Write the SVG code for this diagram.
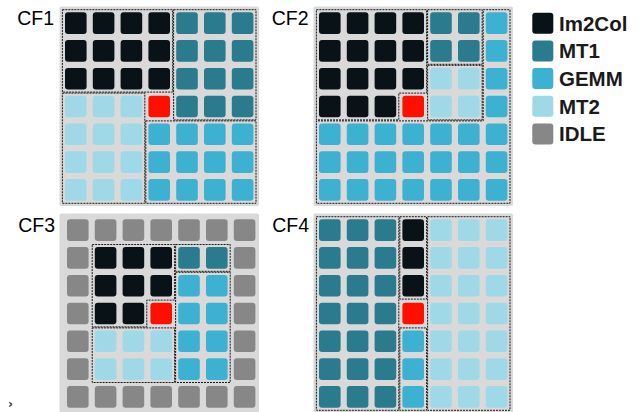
<svg xmlns="http://www.w3.org/2000/svg" width="641" height="412" viewBox="0 0 641 412">
<style>
.bg{fill:#d9d9d9}
.k{fill:#081217}
.m1{fill:#2a7b8e}
.g{fill:#3cb1d2}
.m2{fill:#9fd9e7}
.i{fill:#878787}
.r{fill:#fe1000}
.reg{fill:none;stroke:#1a1a1a;stroke-width:1;stroke-dasharray:2 1}
.lab{font-family:"Liberation Sans",Arial,sans-serif;font-size:19.5px;fill:#000;text-anchor:end}
.leg{font-family:"Liberation Sans",Arial,sans-serif;font-size:20.5px;font-weight:bold;fill:#1a1a1a}
</style>
<defs>
<rect id="c" width="21.6" height="21.6" rx="3"/>
<rect id="lb" width="21" height="21" rx="3"/>
</defs>
<rect x="0" y="0" width="641" height="412" fill="#fff"/>

<g id="cf1">
<rect class="bg" x="59.5" y="6.5" width="199.5" height="199.5" rx="2"/>
<text class="lab" x="54" y="25.3">CF1</text>
<g transform="translate(65,12.3)">
<use href="#c" class="k" x="0" y="0"/><use href="#c" class="k" x="27.8" y="0"/><use href="#c" class="k" x="55.6" y="0"/><use href="#c" class="k" x="83.4" y="0"/><use href="#c" class="m1" x="111.2" y="0"/><use href="#c" class="m1" x="139" y="0"/><use href="#c" class="m1" x="166.8" y="0"/>
<use href="#c" class="k" x="0" y="27.8"/><use href="#c" class="k" x="27.8" y="27.8"/><use href="#c" class="k" x="55.6" y="27.8"/><use href="#c" class="k" x="83.4" y="27.8"/><use href="#c" class="m1" x="111.2" y="27.8"/><use href="#c" class="m1" x="139" y="27.8"/><use href="#c" class="m1" x="166.8" y="27.8"/>
<use href="#c" class="k" x="0" y="55.6"/><use href="#c" class="k" x="27.8" y="55.6"/><use href="#c" class="k" x="55.6" y="55.6"/><use href="#c" class="k" x="83.4" y="55.6"/><use href="#c" class="m1" x="111.2" y="55.6"/><use href="#c" class="m1" x="139" y="55.6"/><use href="#c" class="m1" x="166.8" y="55.6"/>
<use href="#c" class="m2" x="0" y="83.4"/><use href="#c" class="m2" x="27.8" y="83.4"/><use href="#c" class="m2" x="55.6" y="83.4"/><use href="#c" class="r" x="83.4" y="83.4"/><use href="#c" class="m1" x="111.2" y="83.4"/><use href="#c" class="m1" x="139" y="83.4"/><use href="#c" class="m1" x="166.8" y="83.4"/>
<use href="#c" class="m2" x="0" y="111.2"/><use href="#c" class="m2" x="27.8" y="111.2"/><use href="#c" class="m2" x="55.6" y="111.2"/><use href="#c" class="g" x="83.4" y="111.2"/><use href="#c" class="g" x="111.2" y="111.2"/><use href="#c" class="g" x="139" y="111.2"/><use href="#c" class="g" x="166.8" y="111.2"/>
<use href="#c" class="m2" x="0" y="139"/><use href="#c" class="m2" x="27.8" y="139"/><use href="#c" class="m2" x="55.6" y="139"/><use href="#c" class="g" x="83.4" y="139"/><use href="#c" class="g" x="111.2" y="139"/><use href="#c" class="g" x="139" y="139"/><use href="#c" class="g" x="166.8" y="139"/>
<use href="#c" class="m2" x="0" y="166.8"/><use href="#c" class="m2" x="27.8" y="166.8"/><use href="#c" class="m2" x="55.6" y="166.8"/><use href="#c" class="g" x="83.4" y="166.8"/><use href="#c" class="g" x="111.2" y="166.8"/><use href="#c" class="g" x="139" y="166.8"/><use href="#c" class="g" x="166.8" y="166.8"/>
<rect class="reg" x="-2.6" y="-2.6" width="110.2" height="82.4"/>
<rect class="reg" x="108.6" y="-2.6" width="82.4" height="110.2"/>
<rect class="reg" x="-2.6" y="80.8" width="82.4" height="110.2"/>
<rect class="reg" x="80.8" y="108.6" width="110.2" height="82.4"/>
</g>
</g>

<g id="cf2">
<rect class="bg" x="313.5" y="6.5" width="199.5" height="199.5" rx="2"/>
<text class="lab" x="308.5" y="25.3">CF2</text>
<g transform="translate(319,12.3)">
<use href="#c" class="k" x="0" y="0"/><use href="#c" class="k" x="27.8" y="0"/><use href="#c" class="k" x="55.6" y="0"/><use href="#c" class="k" x="83.4" y="0"/><use href="#c" class="m1" x="111.2" y="0"/><use href="#c" class="m1" x="139" y="0"/><use href="#c" class="g" x="166.8" y="0"/>
<use href="#c" class="k" x="0" y="27.8"/><use href="#c" class="k" x="27.8" y="27.8"/><use href="#c" class="k" x="55.6" y="27.8"/><use href="#c" class="k" x="83.4" y="27.8"/><use href="#c" class="m1" x="111.2" y="27.8"/><use href="#c" class="m1" x="139" y="27.8"/><use href="#c" class="g" x="166.8" y="27.8"/>
<use href="#c" class="k" x="0" y="55.6"/><use href="#c" class="k" x="27.8" y="55.6"/><use href="#c" class="k" x="55.6" y="55.6"/><use href="#c" class="k" x="83.4" y="55.6"/><use href="#c" class="m2" x="111.2" y="55.6"/><use href="#c" class="m2" x="139" y="55.6"/><use href="#c" class="g" x="166.8" y="55.6"/>
<use href="#c" class="k" x="0" y="83.4"/><use href="#c" class="k" x="27.8" y="83.4"/><use href="#c" class="k" x="55.6" y="83.4"/><use href="#c" class="r" x="83.4" y="83.4"/><use href="#c" class="m2" x="111.2" y="83.4"/><use href="#c" class="m2" x="139" y="83.4"/><use href="#c" class="g" x="166.8" y="83.4"/>
<use href="#c" class="g" x="0" y="111.2"/><use href="#c" class="g" x="27.8" y="111.2"/><use href="#c" class="g" x="55.6" y="111.2"/><use href="#c" class="g" x="83.4" y="111.2"/><use href="#c" class="g" x="111.2" y="111.2"/><use href="#c" class="g" x="139" y="111.2"/><use href="#c" class="g" x="166.8" y="111.2"/>
<use href="#c" class="g" x="0" y="139"/><use href="#c" class="g" x="27.8" y="139"/><use href="#c" class="g" x="55.6" y="139"/><use href="#c" class="g" x="83.4" y="139"/><use href="#c" class="g" x="111.2" y="139"/><use href="#c" class="g" x="139" y="139"/><use href="#c" class="g" x="166.8" y="139"/>
<use href="#c" class="g" x="0" y="166.8"/><use href="#c" class="g" x="27.8" y="166.8"/><use href="#c" class="g" x="55.6" y="166.8"/><use href="#c" class="g" x="83.4" y="166.8"/><use href="#c" class="g" x="111.2" y="166.8"/><use href="#c" class="g" x="139" y="166.8"/><use href="#c" class="g" x="166.8" y="166.8"/>
<polygon class="reg" points="-2.6,-2.6 107.6,-2.6 107.6,80.8 79.8,80.8 79.8,107.6 -2.6,107.6"/>
<rect class="reg" x="108.6" y="-2.6" width="54.6" height="54.6"/>
<rect class="reg" x="108.6" y="53" width="54.6" height="54.6"/>
<polygon class="reg" points="164.2,-2.6 191,-2.6 191,191 -2.6,191 -2.6,108.6 164.2,108.6"/>
</g>
</g>

<g id="cf3">
<rect class="bg" x="59.5" y="213.5" width="199.5" height="199.5" rx="2"/>
<text class="lab" x="55" y="231.7">CF3</text>
<g transform="translate(67,219.3)">
<use href="#c" class="i" x="0" y="0"/><use href="#c" class="i" x="27.8" y="0"/><use href="#c" class="i" x="55.6" y="0"/><use href="#c" class="i" x="83.4" y="0"/><use href="#c" class="i" x="111.2" y="0"/><use href="#c" class="i" x="139" y="0"/><use href="#c" class="i" x="166.8" y="0"/>
<use href="#c" class="i" x="0" y="27.8"/><use href="#c" class="k" x="27.8" y="27.8"/><use href="#c" class="k" x="55.6" y="27.8"/><use href="#c" class="k" x="83.4" y="27.8"/><use href="#c" class="m1" x="111.2" y="27.8"/><use href="#c" class="m1" x="139" y="27.8"/><use href="#c" class="i" x="166.8" y="27.8"/>
<use href="#c" class="i" x="0" y="55.6"/><use href="#c" class="k" x="27.8" y="55.6"/><use href="#c" class="k" x="55.6" y="55.6"/><use href="#c" class="k" x="83.4" y="55.6"/><use href="#c" class="g" x="111.2" y="55.6"/><use href="#c" class="g" x="139" y="55.6"/><use href="#c" class="i" x="166.8" y="55.6"/>
<use href="#c" class="i" x="0" y="83.4"/><use href="#c" class="k" x="27.8" y="83.4"/><use href="#c" class="k" x="55.6" y="83.4"/><use href="#c" class="r" x="83.4" y="83.4"/><use href="#c" class="g" x="111.2" y="83.4"/><use href="#c" class="g" x="139" y="83.4"/><use href="#c" class="i" x="166.8" y="83.4"/>
<use href="#c" class="i" x="0" y="111.2"/><use href="#c" class="m2" x="27.8" y="111.2"/><use href="#c" class="m2" x="55.6" y="111.2"/><use href="#c" class="m2" x="83.4" y="111.2"/><use href="#c" class="g" x="111.2" y="111.2"/><use href="#c" class="g" x="139" y="111.2"/><use href="#c" class="i" x="166.8" y="111.2"/>
<use href="#c" class="i" x="0" y="139"/><use href="#c" class="m2" x="27.8" y="139"/><use href="#c" class="m2" x="55.6" y="139"/><use href="#c" class="m2" x="83.4" y="139"/><use href="#c" class="g" x="111.2" y="139"/><use href="#c" class="g" x="139" y="139"/><use href="#c" class="i" x="166.8" y="139"/>
<use href="#c" class="i" x="0" y="166.8"/><use href="#c" class="i" x="27.8" y="166.8"/><use href="#c" class="i" x="55.6" y="166.8"/><use href="#c" class="i" x="83.4" y="166.8"/><use href="#c" class="i" x="111.2" y="166.8"/><use href="#c" class="i" x="139" y="166.8"/><use href="#c" class="i" x="166.8" y="166.8"/>
<polygon class="reg" points="25.2,25.2 107.6,25.2 107.6,80.8 79.8,80.8 79.8,107.6 25.2,107.6"/>
<rect class="reg" x="108.6" y="25.2" width="54.6" height="26.8"/>
<rect class="reg" x="108.6" y="53" width="54.6" height="110.2"/>
<rect class="reg" x="25.2" y="108.6" width="82.4" height="54.6"/>
</g>
</g>

<g id="cf4">
<rect class="bg" x="313.5" y="213.5" width="199.5" height="199.5" rx="2"/>
<text class="lab" x="309" y="231.5">CF4</text>
<g transform="translate(319,219.3)">
<use href="#c" class="m1" x="0" y="0"/><use href="#c" class="m1" x="27.8" y="0"/><use href="#c" class="m1" x="55.6" y="0"/><use href="#c" class="k" x="83.4" y="0"/><use href="#c" class="m2" x="111.2" y="0"/><use href="#c" class="m2" x="139" y="0"/><use href="#c" class="m2" x="166.8" y="0"/>
<use href="#c" class="m1" x="0" y="27.8"/><use href="#c" class="m1" x="27.8" y="27.8"/><use href="#c" class="m1" x="55.6" y="27.8"/><use href="#c" class="k" x="83.4" y="27.8"/><use href="#c" class="m2" x="111.2" y="27.8"/><use href="#c" class="m2" x="139" y="27.8"/><use href="#c" class="m2" x="166.8" y="27.8"/>
<use href="#c" class="m1" x="0" y="55.6"/><use href="#c" class="m1" x="27.8" y="55.6"/><use href="#c" class="m1" x="55.6" y="55.6"/><use href="#c" class="k" x="83.4" y="55.6"/><use href="#c" class="m2" x="111.2" y="55.6"/><use href="#c" class="m2" x="139" y="55.6"/><use href="#c" class="m2" x="166.8" y="55.6"/>
<use href="#c" class="m1" x="0" y="83.4"/><use href="#c" class="m1" x="27.8" y="83.4"/><use href="#c" class="m1" x="55.6" y="83.4"/><use href="#c" class="r" x="83.4" y="83.4"/><use href="#c" class="m2" x="111.2" y="83.4"/><use href="#c" class="m2" x="139" y="83.4"/><use href="#c" class="m2" x="166.8" y="83.4"/>
<use href="#c" class="m1" x="0" y="111.2"/><use href="#c" class="m1" x="27.8" y="111.2"/><use href="#c" class="m1" x="55.6" y="111.2"/><use href="#c" class="g" x="83.4" y="111.2"/><use href="#c" class="m2" x="111.2" y="111.2"/><use href="#c" class="m2" x="139" y="111.2"/><use href="#c" class="m2" x="166.8" y="111.2"/>
<use href="#c" class="m1" x="0" y="139"/><use href="#c" class="m1" x="27.8" y="139"/><use href="#c" class="m1" x="55.6" y="139"/><use href="#c" class="g" x="83.4" y="139"/><use href="#c" class="m2" x="111.2" y="139"/><use href="#c" class="m2" x="139" y="139"/><use href="#c" class="m2" x="166.8" y="139"/>
<use href="#c" class="m1" x="0" y="166.8"/><use href="#c" class="m1" x="27.8" y="166.8"/><use href="#c" class="m1" x="55.6" y="166.8"/><use href="#c" class="g" x="83.4" y="166.8"/><use href="#c" class="m2" x="111.2" y="166.8"/><use href="#c" class="m2" x="139" y="166.8"/><use href="#c" class="m2" x="166.8" y="166.8"/>
<rect class="reg" x="-2.6" y="-2.6" width="82.4" height="193.6"/>
<rect class="reg" x="80.8" y="-2.6" width="26.8" height="82.4"/>
<rect class="reg" x="80.8" y="108.6" width="26.8" height="82.4"/>
<rect class="reg" x="108.6" y="-2.6" width="82.4" height="193.6"/>
</g>
</g>

<g id="legend">
<g id="leg-im2col"><use href="#lb" class="k" x="532.3" y="12.7"/><text class="leg" x="559" y="30.6">Im2Col</text></g>
<g id="leg-mt1"><use href="#lb" class="m1" x="532.3" y="40.4"/><text class="leg" x="559" y="58.3">MT1</text></g>
<g id="leg-gemm"><use href="#lb" class="g" x="532.3" y="68.1"/><text class="leg" x="559" y="86">GEMM</text></g>
<g id="leg-mt2"><use href="#lb" class="m2" x="532.3" y="95.8"/><text class="leg" x="559" y="113.7">MT2</text></g>
<g id="leg-idle"><use href="#lb" class="i" x="532.3" y="123.5"/><text class="leg" x="559" y="141.4">IDLE</text></g>
</g>

<text x="8" y="408" font-family="'DejaVu Sans',sans-serif" font-size="12" font-weight="bold" fill="#333">›</text>
</svg>
